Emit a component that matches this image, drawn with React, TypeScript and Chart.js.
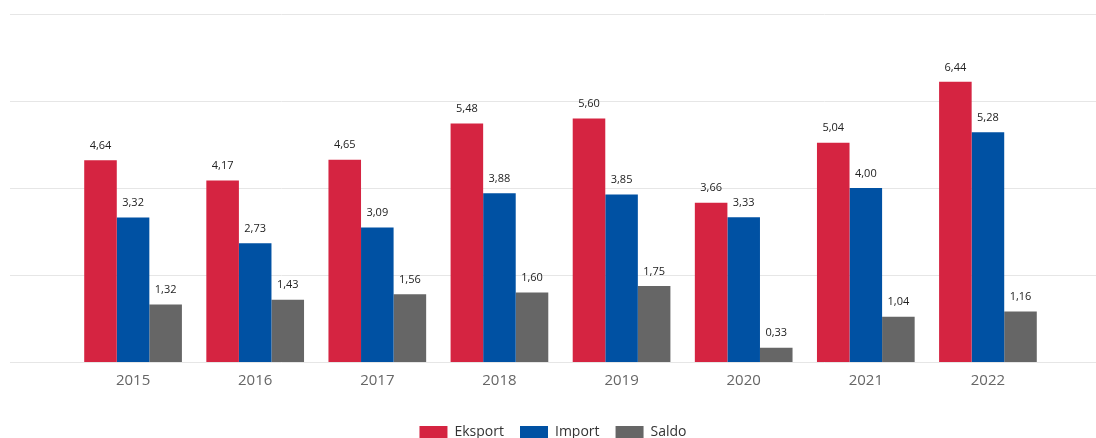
import React, { useEffect, useRef } from "react";
import { Chart, registerables } from "chart.js";

Chart.register(...registerables);

const categories = ["2015", "2016", "2017", "2018", "2019", "2020", "2021", "2022"];
const eksport = [4.64, 4.17, 4.65, 5.48, 5.6, 3.66, 5.04, 6.44];
const importVals = [3.32, 2.73, 3.09, 3.88, 3.85, 3.33, 4.0, 5.28];
const saldo = [1.32, 1.43, 1.56, 1.6, 1.75, 0.33, 1.04, 1.16];
const seriesNames = ["Eksport", "Import", "Saldo"];
const seriesColors = ["#D52441", "#0051A3", "#666666"];

const FONT = "'Open Sans', 'Noto Sans', sans-serif";

const gridPlugin = {
  id: "fullGrid",
  beforeDatasetsDraw(chart: any) {
    const { ctx } = chart;
    const y = chart.scales.y;
    ctx.save();
    ctx.strokeStyle = "#e6e6e6";
    ctx.lineWidth = 1;
    y.ticks.forEach((t: any) => {
      const py = Math.round(y.getPixelForValue(t.value)) + 0.5;
      ctx.beginPath();
      ctx.moveTo(10, py);
      ctx.lineTo(chart.width, py);
      ctx.stroke();
    });
    ctx.restore();
  },
};

const labelPlugin = {
  id: "valueLabels",
  afterDatasetsDraw(chart: any) {
    const { ctx } = chart;
    ctx.save();
    ctx.font = `11px ${FONT}`;
    ctx.fillStyle = "#222";
    ctx.textAlign = "center";
    ctx.textBaseline = "bottom";
    chart.data.datasets.forEach((ds: any, i: number) => {
      const meta = chart.getDatasetMeta(i);
      meta.data.forEach((bar: any, j: number) => {
        const v = ds.data[j] as number;
        ctx.fillText(v.toFixed(2).replace(".", ","), bar.x, bar.y - 9);
      });
    });
    ctx.restore();
  },
};

export default function App() {
  const ref = useRef<HTMLCanvasElement | null>(null);
  useEffect(() => {
    if (!ref.current) return;
    const chart = new Chart(ref.current, {
      type: "bar",
      data: {
        labels: categories,
        datasets: [eksport, importVals, saldo].map((d, i) => ({
          label: seriesNames[i],
          data: d,
          backgroundColor: seriesColors[i],
          borderWidth: 0,
          categoryPercentage: 0.8,
          barPercentage: 1.0,
        })),
      },
      options: {
        animation: false,
        responsive: false,
        maintainAspectRatio: false,
        layout: { padding: { left: 10, right: 0, top: 14, bottom: 0 } },
        scales: {
          x: {
            grid: { display: false },
            border: { display: false },
            ticks: { color: "#666", font: { family: FONT, size: 15 }, padding: 2 },
            afterFit: (s: any) => {
              s.height += 17;
            },
          },
          y: {
            position: "left",
            min: 0,
            max: 8,
            ticks: { stepSize: 2, display: false },
            grid: { display: false },
            border: { display: false },
            afterFit: (s: any) => {
              s.width = 62;
            },
          },
          yRight: {
            position: "right",
            min: 0,
            max: 8,
            ticks: { display: false },
            grid: { display: false },
            border: { display: false },
            afterFit: (s: any) => {
              s.width = 47;
            },
          },
        },
        plugins: {
          legend: {
            position: "bottom",
            labels: {
              boxWidth: 28,
              boxHeight: 12,
              padding: 16,
              color: "#333",
              font: { family: FONT, size: 14 },
            },
          },
          tooltip: { enabled: false },
        },
      },
      plugins: [gridPlugin, labelPlugin],
    });
    return () => chart.destroy();
  }, []);
  return (
    <div
      style={{
        position: "absolute",
        left: 0,
        top: 0,
        width: 1096,
        height: 438,
        overflow: "hidden",
        background: "#fff",
      }}
    >
      <canvas ref={ref} width={1096} height={449} style={{ display: "block" }} />
    </div>
  );
}
